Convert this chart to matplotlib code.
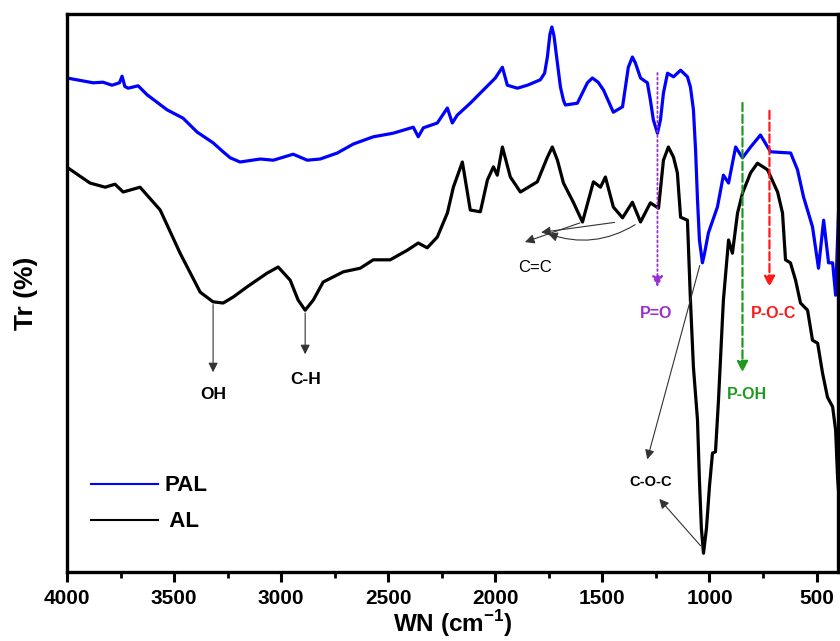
import numpy as np
import matplotlib
matplotlib.use("Agg")
import matplotlib.pyplot as plt
from matplotlib.lines import Line2D
from matplotlib.ticker import MultipleLocator

plt.rcParams['font.family'] = ['Liberation Sans', 'DejaVu Sans']
plt.rcParams['mathtext.fontset'] = 'custom'
plt.rcParams['mathtext.bf'] = 'Liberation Sans:bold'
plt.rcParams['mathtext.rm'] = 'Liberation Sans'

# ---- spectra (wavenumber cm-1, Tr in arbitrary %) ----
pal_wn = [4000, 3878, 3832, 3790, 3755, 3743, 3730, 3715, 3668, 3626, 3533, 3458,
          3393, 3318, 3271, 3238, 3192, 3098, 3037, 2944, 2878, 2818, 2738, 2663,
          2570, 2477, 2383, 2360, 2336, 2271, 2224, 2201, 2178, 2117, 2056, 2000,
          1967, 1944, 1897, 1850, 1790, 1770, 1757, 1745, 1736, 1726, 1712, 1696,
          1682, 1673, 1617, 1570, 1547, 1520, 1495, 1449, 1406, 1379, 1360, 1346,
          1322, 1290, 1276, 1262, 1243, 1229, 1215, 1196, 1168, 1135, 1103, 1089,
          1075, 1065, 1056, 1047, 1033, 1023, 1005, 963, 935, 911, 878, 846, 808,
          762, 715, 621, 589, 561, 519, 491, 467, 444, 425, 411, 397]
pal_tr = [87.0, 86.2, 86.3, 85.8, 86.2, 87.3, 85.6, 85.3, 85.7, 84.2, 81.7, 80.3,
          78.0, 76.2, 74.7, 73.7, 73.0, 73.5, 73.3, 74.3, 73.3, 73.5, 74.5, 76.0,
          77.2, 77.8, 78.8, 77.2, 78.7, 79.5, 82.0, 79.5, 80.8, 82.8, 85.0, 87.0,
          88.8, 85.8, 85.3, 85.8, 86.7, 87.8, 90.5, 94.3, 95.5, 94.0, 90.0, 85.5,
          83.3, 82.5, 82.8, 86.2, 87.0, 86.3, 85.0, 81.3, 82.2, 88.8, 90.5, 89.5,
          87.0, 86.2, 83.3, 80.0, 77.8, 80.0, 84.5, 87.8, 87.2, 88.3, 87.2, 85.5,
          81.7, 75.0, 66.7, 60.0, 56.2, 57.8, 61.2, 65.5, 70.8, 69.5, 75.5, 73.7,
          75.5, 77.5, 74.7, 74.5, 71.7, 67.2, 62.2, 55.3, 63.3, 56.2, 56.2, 50.8,
          65.3]

al_wn = [3995, 3893, 3822, 3776, 3738, 3659, 3565, 3472, 3378, 3318, 3271, 3224,
         3159, 3065, 3014, 2958, 2921, 2888, 2850, 2804, 2710, 2631, 2570, 2491,
         2411, 2360, 2318, 2271, 2224, 2196, 2154, 2117, 2070, 2037, 2009, 1991,
         1967, 1930, 1883, 1804, 1757, 1734, 1710, 1682, 1636, 1593, 1542, 1509,
         1486, 1449, 1406, 1360, 1322, 1276, 1238, 1215, 1192, 1168, 1150, 1135,
         1103, 1089, 1075, 1056, 1047, 1038, 1028, 1014, 1000, 986, 972, 958, 939,
         935, 911, 893, 869, 846, 808, 776, 729, 682, 659, 645, 622, 598, 575,
         542, 519, 495, 472, 449, 425, 411, 402, 395]
al_tr = [72.0, 69.5, 68.8, 69.3, 68.0, 68.8, 65.0, 57.8, 51.3, 49.7, 49.5, 50.5,
         52.2, 54.5, 55.5, 53.3, 50.0, 48.3, 50.0, 53.0, 54.7, 55.3, 56.7, 56.7,
         58.3, 59.5, 58.7, 60.5, 64.5, 68.8, 73.0, 65.0, 64.7, 70.0, 72.2, 70.8,
         75.5, 70.5, 68.0, 69.7, 73.8, 75.5, 73.3, 69.5, 66.3, 63.0, 69.7, 68.8,
         70.5, 65.5, 63.7, 66.3, 63.0, 66.2, 65.3, 73.3, 75.5, 73.8, 71.2, 63.8,
         63.3, 50.0, 38.8, 30.0, 20.0, 12.0, 7.8, 12.0, 19.0, 24.5, 24.7, 33.3,
         47.2, 50.0, 60.0, 57.8, 64.5, 67.8, 71.2, 72.8, 71.7, 68.0, 64.5, 56.7,
         56.2, 53.3, 49.5, 48.3, 43.3, 42.8, 37.8, 33.8, 32.2, 28.3, 20.5, 17.0]

fig = plt.figure(figsize=(8.4, 6.41), dpi=100)
ax = fig.add_axes([0.0798, 0.1076, 0.9178, 0.8706])

ax.plot(pal_wn, pal_tr, color='#0000ff', lw=2.3, solid_joinstyle='round')
ax.plot(al_wn, al_tr, color='black', lw=2.3, solid_joinstyle='round')

ax.set_xlim(4000, 400)
ax.set_ylim(4.67, 97.67)

for s in ax.spines.values():
    s.set_linewidth(2.4)
ax.set_yticks([])
ax.xaxis.set_major_locator(MultipleLocator(500))
ax.xaxis.set_minor_locator(MultipleLocator(250))
ax.tick_params(axis='x', which='major', direction='out', length=7, width=2.2,
               labelsize=15, pad=5)
ax.tick_params(axis='x', which='minor', direction='out', length=4, width=2.0)
for lab in ax.get_xticklabels():
    lab.set_fontweight('bold')

ax.set_xlabel('WN (cm$^{\\mathbf{-1}}$)', fontsize=17.5, fontweight='bold', labelpad=0.5)
ax.set_ylabel('Tr (%)', fontsize=19, fontweight='bold', labelpad=21)

# ---- peak annotations ----
thin = dict(arrowstyle='-|>', color='#333333', lw=0.8, mutation_scale=14)
ax.annotate('', xy=(3318, 37.5), xytext=(3318, 49.7), arrowprops=thin)
ax.text(3318, 34.2, 'OH', ha='center', va='center', fontsize=12.5, fontweight='bold')
ax.annotate('', xy=(2888, 40.5), xytext=(2888, 48.3), arrowprops=thin)
ax.text(2888, 36.7, 'C-H', ha='center', va='center', fontsize=12.5, fontweight='bold')

ax.annotate('', xy=(1874, 59.5), xytext=(1593, 63.0), arrowprops=thin)
ax.annotate('', xy=(1799, 61.2), xytext=(1430, 63.0), arrowprops=thin)
ax.annotate('', xy=(1766, 61.2), xytext=(1336, 62.8),
            arrowprops=dict(thin, connectionstyle='arc3,rad=-0.25'))
ax.text(1813, 55.5, 'C=C', ha='center', va='center', fontsize=12)

ax.annotate('', xy=(1243, 51.7), xytext=(1243, 88.3),
            arrowprops=dict(arrowstyle='-|>', color='#9b2fd0', lw=1.3, ls=':',
                            mutation_scale=16))
ax.text(1248, 47.8, 'P=O', ha='center', va='center', fontsize=11.5,
        fontweight='bold', color='#9b2fd0')
ax.annotate('', xy=(846, 37.5), xytext=(846, 83.3),
            arrowprops=dict(arrowstyle='-|>', color='#1f9a1f', lw=1.6, ls='--',
                            mutation_scale=16))
ax.text(827, 34.2, 'P-OH', ha='center', va='center', fontsize=11.5,
        fontweight='bold', color='#1f9a1f')
ax.annotate('', xy=(720, 51.7), xytext=(720, 82.0),
            arrowprops=dict(arrowstyle='-|>', color='#ff1a1a', lw=1.6, ls='--',
                            mutation_scale=16))
ax.text(701, 47.8, 'P-O-C', ha='center', va='center', fontsize=11.5,
        fontweight='bold', color='#ff1a1a')

ax.annotate('', xy=(1294, 23.0), xytext=(1042, 56.2), arrowprops=thin)
ax.annotate('', xy=(1243, 17.2), xytext=(1033, 8.7), arrowprops=thin)
ax.text(1276, 19.7, 'C-O-C', ha='center', va='center', fontsize=10.5,
        fontweight='bold')

# ---- legend ----
handles = [Line2D([], [], color='#0000ff', lw=1.5),
           Line2D([], [], color='black', lw=1.5)]
leg = ax.legend(handles, ['PAL', ' AL'], loc='lower left', bbox_to_anchor=(0.005, 0.035),
                frameon=False, handlelength=3.0, handletextpad=0.3, labelspacing=0.68,
                prop=dict(size=16, weight='bold'))

fig.savefig('out.png', dpi=100)
